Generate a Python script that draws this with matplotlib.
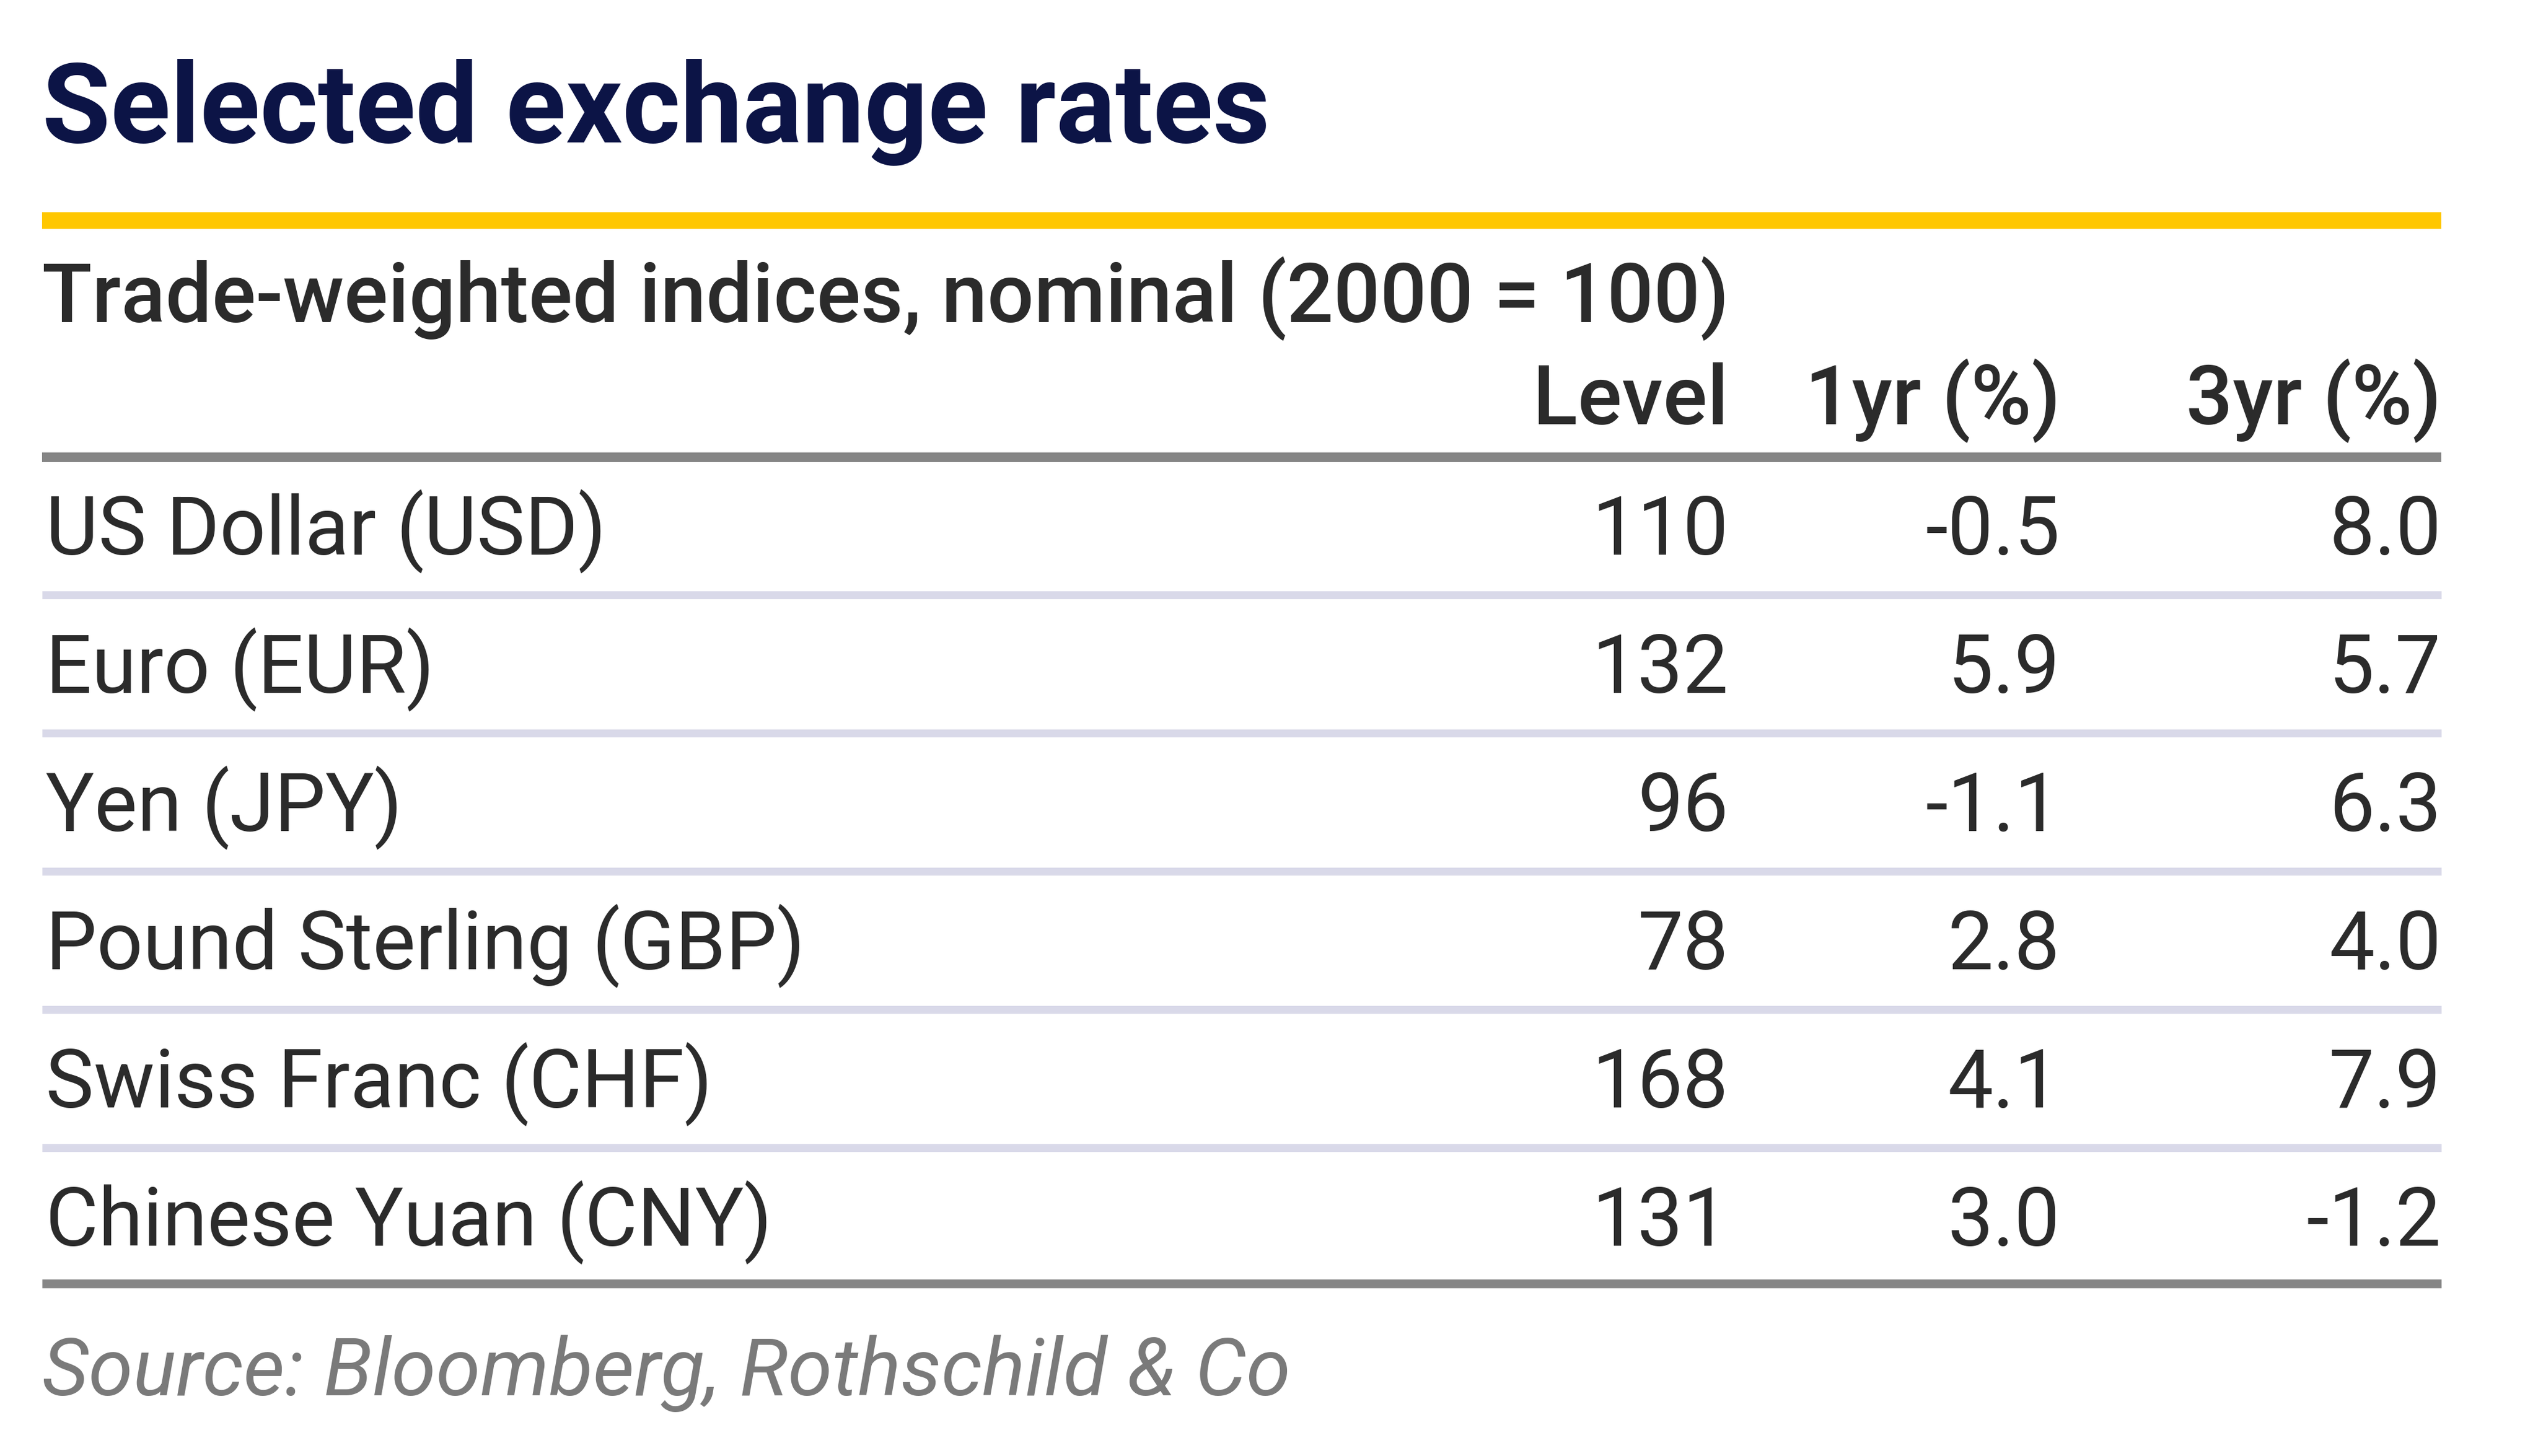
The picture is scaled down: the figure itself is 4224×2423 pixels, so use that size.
import matplotlib
matplotlib.use("Agg")
import matplotlib.pyplot as plt

# table content
title = "Selected exchange rates"
subtitle = "Trade-weighted indices, nominal (2000 = 100)"
headers = ["Level", "1yr (%)", "3yr (%)"]
currencies = ["US Dollar (USD)", "Euro (EUR)", "Yen (JPY)",
              "Pound Sterling (GBP)", "Swiss Franc (CHF)", "Chinese Yuan (CNY)"]
level = [110, 132, 96, 78, 168, 131]
yr1 = [-0.5, 5.9, -1.1, 2.8, 4.1, 3.0]
yr3 = [8.0, 5.7, 6.3, 4.0, 7.9, -1.2]
source = "Source: Bloomberg, Rothschild & Co"

W, H = 4224, 2423
fig = plt.figure(figsize=(W / 100, H / 100), dpi=100)
ax = fig.add_axes([0, 0, 1, 1])
ax.set_xlim(0, W)
ax.set_ylim(H, 0)
ax.axis("off")

plt.rcParams['font.family'] = ['Roboto', 'DejaVu Sans']

left = 70
right = 4063
col_x = [2877, 3429, 4063]

navy = "#0c1446"
textc = "#2b2b2b"

ax.text(left, 237, title, fontsize=133, fontweight="bold", color=navy, va="baseline", ha="left")
ax.hlines(367, left, right, color="#ffc700", lw=20)
ax.text(left, 536, subtitle, fontsize=98.5, fontweight="medium", color=textc, va="baseline", ha="left")

for x, h in zip(col_x, headers):
    ax.text(x, 706, h, fontsize=99, fontweight="medium", color=textc, va="baseline", ha="right")

ax.hlines(761, left, right, color="#858585", lw=11.5)

row0 = 923
step = 230
for i, name in enumerate(currencies):
    yb = row0 + i * step
    ax.text(left + 6, yb, name, fontsize=97, color=textc, va="baseline", ha="left")
    vals = [str(level[i]), f"{yr1[i]:.1f}", f"{yr3[i]:.1f}"]
    for x, v in zip(col_x, vals):
        ax.text(x, yb, v, fontsize=97, color=textc, va="baseline", ha="right")
    if i < len(currencies) - 1:
        ax.hlines(yb + 67, left, right, color="#d9d9e9", lw=9.5)

ax.hlines(2136, left, right, color="#858585", lw=10.5)

ax.text(left, 2322, source, fontsize=96.5, style="italic", color="#7a7a7a", va="baseline", ha="left")

fig.savefig("out.png", dpi=100, facecolor="white")
